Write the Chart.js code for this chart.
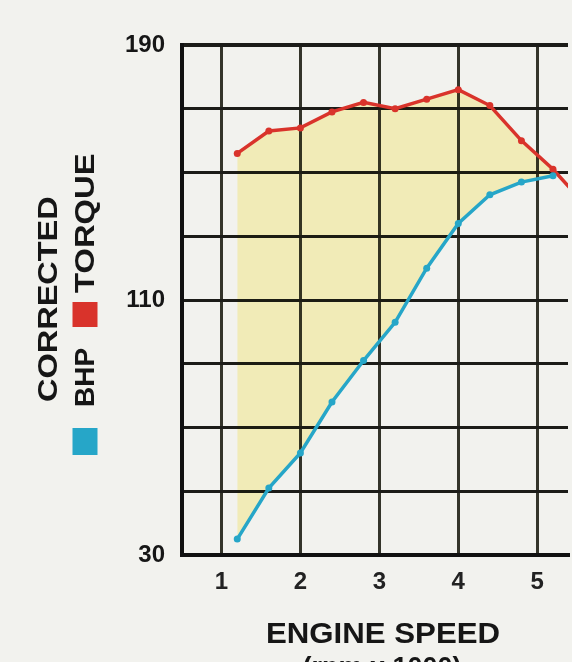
<!DOCTYPE html>
<html>
<head>
<meta charset="utf-8">
<script src="https://cdn.jsdelivr.net/npm/chart.js@4.4.0/dist/chart.umd.min.js"></script>
<style>
  html, body { margin: 0; padding: 0; background: #f2f2ee; overflow: hidden; }
  #wrap { position: relative; width: 572px; height: 662px; background: #f2f2ee; }
</style>
</head>
<body>
<div id="wrap"><canvas id="dyno" width="572" height="662"></canvas></div>
<script>
// engine speed (rpm x 1000) at each measured point
const rpm = [1.2, 1.6, 2.0, 2.4, 2.8, 3.2, 3.6, 4.0, 4.4, 4.8, 5.2, 5.6];
const torque = [156, 163, 164, 169, 172, 170, 173, 176, 171, 160, 151, 140];
const bhp = [35, 51, 62, 78, 91, 103, 120, 134, 143, 147, 149];
const xTicks = [1, 2, 3, 4, 5];
const yLabels = [30, 110, 190];

const COLORS = {
  torque: '#d9332b',
  bhp: '#26a6c8',
  fill: 'rgb(254, 248, 196)',
  grid: '#1c1c18',
  gridV: '#34342a',
  text: '#161616'
};

const FONT = "'Liberation Sans', Arial, sans-serif";

const toPoints = (xs, ys) => ys.map((y, i) => ({ x: xs[i], y }));

// paint page colour behind the chart, and let the yellow band tint the grid (multiply)
const paperPlugin = {
  id: 'paper',
  beforeDraw(chart) {
    const ctx = chart.ctx;
    ctx.save();
    ctx.fillStyle = '#f2f2ee';
    ctx.fillRect(0, 0, chart.width, chart.height);
    ctx.restore();
  },
  beforeDatasetsDraw(chart) {
    chart.ctx.globalCompositeOperation = 'multiply';
  },
  beforeDatasetDraw(chart) {
    chart.ctx.globalCompositeOperation = 'source-over';
  }
};

// titles drawn on the canvas (rotated legend title on the left, axis title below)
const titlesPlugin = {
  id: 'titles',
  afterDraw(chart) {
    const ctx = chart.ctx;
    ctx.save();
    ctx.globalCompositeOperation = 'source-over';
    ctx.fillStyle = COLORS.text;

    ctx.font = 'bold 30px ' + FONT;
    ctx.textAlign = 'center';
    ctx.textBaseline = 'alphabetic';
    ctx.save();
    ctx.translate(383, 643);
    ctx.scale(1.04, 1);
    ctx.fillText('ENGINE SPEED', 0, 0);
    ctx.restore();
    ctx.font = 'bold 27px ' + FONT;
    ctx.fillText('(rpm x 1000)', 382, 676);

    // left column: CORRECTED
    ctx.font = 'bold 28px ' + FONT;
    ctx.textAlign = 'left';
    ctx.textBaseline = 'middle';
    ctx.save();
    ctx.translate(48, 402);
    ctx.rotate(-Math.PI / 2);
    ctx.scale(1.16, 1);
    ctx.fillText('CORRECTED', 0, 1);
    ctx.restore();

    // second column: ■ BHP ■ TORQUE
    ctx.save();
    ctx.translate(85, 455);
    ctx.rotate(-Math.PI / 2);
    ctx.fillStyle = COLORS.bhp;
    ctx.fillRect(0, -12.5, 27, 25);
    ctx.fillStyle = COLORS.torque;
    ctx.fillRect(128, -12.5, 25, 25);
    ctx.fillStyle = COLORS.text;
    ctx.fillText('BHP', 48, 1);
    ctx.save();
    ctx.translate(162, 1);
    ctx.scale(1.17, 1);
    ctx.fillText('TORQUE', 0, 0);
    ctx.restore();
    ctx.restore();

    ctx.restore();
  }
};

new Chart(document.getElementById('dyno'), {
  type: 'line',
  data: {
    datasets: [
      {
        label: 'BHP',
        data: toPoints(rpm, bhp),
        borderColor: COLORS.bhp,
        backgroundColor: COLORS.bhp,
        pointBackgroundColor: COLORS.bhp,
        borderWidth: 3.5,
        pointRadius: 3.5,
        pointBorderWidth: 0,
        fill: false
      },
      {
        label: 'TORQUE',
        data: toPoints(rpm, torque),
        borderColor: COLORS.torque,
        backgroundColor: COLORS.fill,
        pointBackgroundColor: COLORS.torque,
        borderWidth: 3.5,
        pointRadius: 3.5,
        pointBorderWidth: 0,
        fill: '-1'
      }
    ]
  },
  options: {
    responsive: false,
    animation: false,
    events: [],
    layout: { padding: { top: 45, right: 0, bottom: 0, left: 0 } },
    plugins: {
      legend: { display: false },
      tooltip: { enabled: false }
    },
    scales: {
      x: {
        type: 'linear',
        min: 0.5,
        max: 5.39,
        afterBuildTicks: axis => { axis.ticks = xTicks.map(v => ({ value: v })); },
        afterFit: axis => { axis.height = 107; },
        grid: { color: COLORS.gridV, lineWidth: 3, drawTicks: false },
        border: { display: true, color: '#111', width: 4 },
        ticks: {
          padding: 13,
          color: '#222',
          font: { family: FONT, size: 24, weight: 'bold' }
        }
      },
      y: {
        min: 30,
        max: 190,
        afterFit: axis => { axis.width = 182; },
        grid: {
          color: COLORS.grid,
          lineWidth: c => (c.tick && c.tick.value === 190 ? 4 : 3),
          drawTicks: false
        },
        border: { display: true, color: '#111', width: 4 },
        ticks: {
          stepSize: 20,
          padding: 17,
          color: COLORS.text,
          font: { family: FONT, size: 24, weight: 'bold' },
          callback: v => (yLabels.includes(v) ? String(v) : '')
        }
      }
    }
  },
  plugins: [paperPlugin, titlesPlugin]
});
</script>
</body>
</html>
